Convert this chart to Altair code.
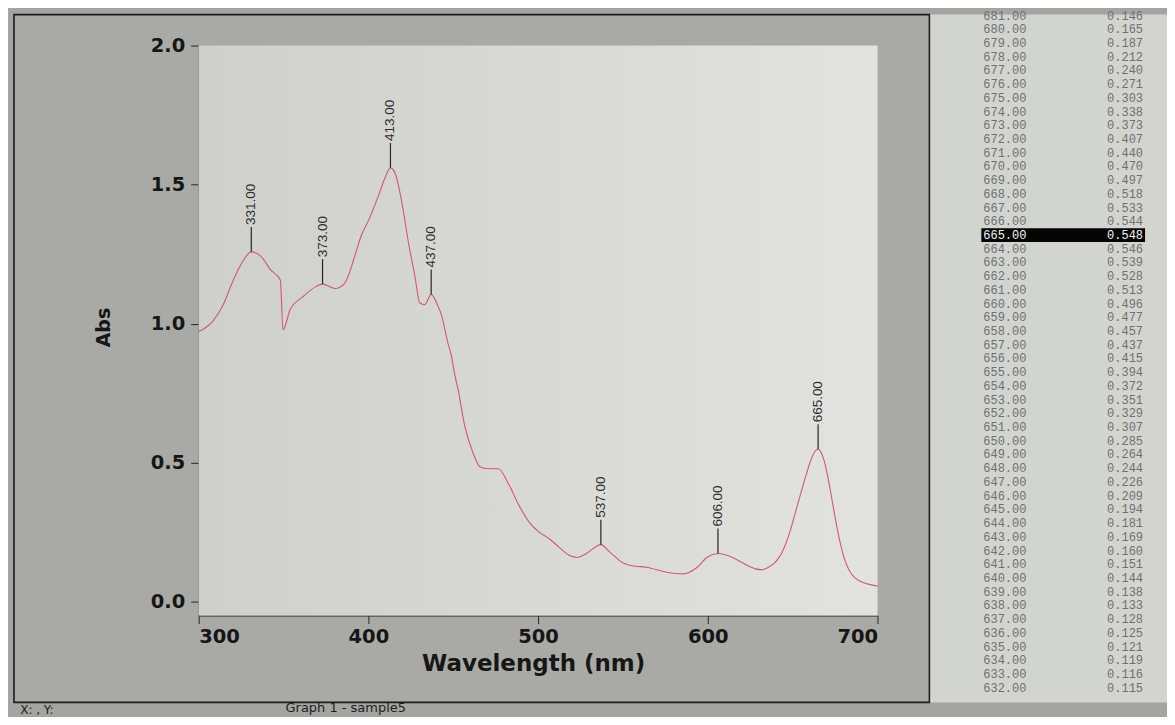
import altair as alt
import pandas as pd

# ---------------- data ----------------
# spectrum below 632 nm
read_wl = [300, 304, 308.5, 314, 319.7, 325.4, 331, 336.7, 342.4, 348.1, 349.7,
           353.9, 361.5, 369.1, 373, 380.4, 386, 391.6, 395.3, 400.9, 406.4,
           410.2, 413, 415.9, 419.7, 423.6, 427.4, 430.3, 433.2, 437, 441, 443,
           446.9, 448.9, 450.8, 452.8, 456.8, 461.8, 465.7, 470.7, 476.6, 482.6,
           488.5, 494.5, 500.4, 506.4, 512.3, 518.3, 523.2, 528.2, 537, 542,
           549.9, 556, 563.8, 575.6, 585.5, 593.6, 599.6, 606, 613.8, 624, 628]
read_abs = [0.972, 0.985, 1.010, 1.062, 1.146, 1.218, 1.258, 1.242, 1.193, 1.157, 0.978,
            1.050, 1.097, 1.133, 1.142, 1.126, 1.145, 1.235, 1.308, 1.382, 1.468,
            1.530, 1.560, 1.538, 1.437, 1.292, 1.171, 1.074, 1.068, 1.105, 1.063, 1.032,
            0.929, 0.885, 0.819, 0.765, 0.631, 0.533, 0.485, 0.478, 0.478, 0.423,
            0.349, 0.288, 0.251, 0.227, 0.196, 0.167, 0.159, 0.172, 0.205, 0.180,
            0.140, 0.128, 0.124, 0.106, 0.100, 0.123, 0.160, 0.173, 0.161, 0.128, 0.118]

# data table shown on the right (681 -> 632 nm)
table_wl = [681, 680, 679, 678, 677, 676, 675, 674, 673, 672, 671, 670, 669, 668,
            667, 666, 665, 664, 663, 662, 661, 660, 659, 658, 657, 656, 655, 654,
            653, 652, 651, 650, 649, 648, 647, 646, 645, 644, 643, 642, 641, 640,
            639, 638, 637, 636, 635, 634, 633, 632]
table_abs = [0.146, 0.165, 0.187, 0.212, 0.240, 0.271, 0.303, 0.338, 0.373, 0.407,
             0.440, 0.470, 0.497, 0.518, 0.533, 0.544, 0.548, 0.546, 0.539, 0.528,
             0.513, 0.496, 0.477, 0.457, 0.437, 0.415, 0.394, 0.372, 0.351, 0.329,
             0.307, 0.285, 0.264, 0.244, 0.226, 0.209, 0.194, 0.181, 0.169, 0.160,
             0.151, 0.144, 0.138, 0.133, 0.128, 0.125, 0.121, 0.119, 0.116, 0.115]
selected_wl = 665

# tail above 681 nm
tail_wl = [682, 683, 684, 686, 689, 694, 700]
tail_abs = [0.130, 0.117, 0.106, 0.090, 0.076, 0.064, 0.056]

# picked peaks
peak_wl = [331, 373, 413, 437, 537, 606, 665]
peak_abs = [1.258, 1.142, 1.560, 1.105, 0.205, 0.173, 0.548]
peak_txt = ["331.00", "373.00", "413.00", "437.00", "537.00", "606.00", "665.00"]

x_ticks = [300, 400, 500, 600, 700]
y_ticks = [0.0, 0.5, 1.0, 1.5, 2.0]
x_domain = [300, 700]
y_domain = [-0.05, 2.0]

# ---------------- tables for the library ----------------
spec_df = pd.DataFrame({
    "wl": read_wl + table_wl[::-1] + tail_wl,
    "abs": read_abs + table_abs[::-1] + tail_abs,
})
peak_df = pd.DataFrame({"wl": peak_wl, "abs": peak_abs, "txt": peak_txt})
area_df = pd.DataFrame({"wl": [x_domain[0]], "wl2": [x_domain[1]],
                        "abs": [y_domain[0]], "abs2": [y_domain[1]]})

rows = []
for w, a in zip(table_wl, table_abs):
    rows.append({"row": w, "col": 0, "txt": f"{w:.2f}"})
    rows.append({"row": w, "col": 1, "txt": f"{a:.3f}"})
table_df = pd.DataFrame(rows)
hl_df = pd.DataFrame({"row": [selected_wl], "col": [0], "col2": [1]})

# ---------------- spectrum panel ----------------
FRAME_W, FRAME_H = 917, 689
xs = alt.Scale(domain=x_domain, range=[185, 865], nice=False, zero=False)
ys = alt.Scale(domain=y_domain, range=[602, 31], nice=False, zero=False)

x_axis = alt.Axis(values=x_ticks, format="d", offset=-(FRAME_H - 602), grid=False,
                  domainColor="#2a2a2a", tickColor="#2a2a2a", tickSize=8,
                  labelPadding=4, labelFont="DejaVu Sans", labelFontWeight="bold",
                  labelFontSize=19.5, labelColor="#161616",
                  title="Wavelength (nm)", titleFont="DejaVu Sans",
                  titleFontWeight="bold", titleFontSize=23, titleColor="#161616",
                  titleX=520, titleY=48, titleAlign="center", titleBaseline="middle")
y_axis = alt.Axis(values=y_ticks, format=".1f", offset=-185, grid=False,
                  domainColor="#2a2a2a", tickColor="#2a2a2a", tickSize=8,
                  labelPadding=6, labelFont="DejaVu Sans", labelFontWeight="bold",
                  labelFontSize=19.5, labelColor="#161616",
                  title="Abs", titleFont="DejaVu Sans", titleFontWeight="bold",
                  titleFontSize=19, titleColor="#161616", titleAngle=270,
                  titleX=-95, titleY=313, titleAlign="center", titleBaseline="middle")

X = alt.X("wl:Q", scale=xs, axis=x_axis)
Y = alt.Y("abs:Q", scale=ys, axis=y_axis)

grad = alt.LinearGradient(
    gradient="linear", x1=0, x2=1, y1=0, y2=0,
    stops=[alt.GradientStop(color="#cfd0cc", offset=0),
           alt.GradientStop(color="#e2e3df", offset=1)])

plot_area = alt.Chart(area_df).mark_rect(color=grad).encode(
    x=X, x2="wl2:Q", y=Y, y2="abs2:Q",
)

curve = alt.Chart(spec_df).mark_line(color="#d05a6c", strokeWidth=1.1,
                                     interpolate="monotone").encode(x=X, y=Y)

peak_rules = alt.Chart(peak_df).mark_rule(color="#262626", strokeWidth=1.2,
                                          y2Offset=-25).encode(
    x=X, y=Y, y2="abs:Q",
)

peak_labels = alt.Chart(peak_df).mark_text(
    angle=270, align="left", baseline="middle", dx=27,
    font="Liberation Sans", fontSize=13.5, color="#2e2e2e").encode(
    x=X, y=Y, text="txt:N",
)

spectrum = alt.layer(plot_area, curve, peak_rules, peak_labels).properties(
    width=FRAME_W, height=FRAME_H,
    view=alt.ViewBackground(fill="#a9aaa6", stroke="#1c1c1c", strokeWidth=1.6),
    title=alt.Title("Graph 1 - sample5", orient="bottom", anchor="start",
                    dx=272, offset=0, font="DejaVu Sans", fontSize=13,
                    fontWeight="normal", color="#1e1e1e"),
)

# ---------------- data table panel ----------------
TAB_W = 237
ty = alt.Scale(type="band", range=[-5.87, 681.1], paddingInner=0, paddingOuter=0,
               domain=table_wl)
tx = alt.Scale(domain=[0, 1], range=[53, 213], nice=False, zero=False)
TX = alt.X("col:Q", scale=tx, axis=None)
TY = alt.Y("row:O", scale=ty, axis=None)

highlight = alt.Chart(hl_df).mark_rect(color="#050505", xOffset=-2, x2Offset=2).encode(
    x=TX, x2="col2:Q", y=TY,
)

txt_color = alt.condition(alt.datum.row == selected_wl,
                          alt.value("#f4f4f4"), alt.value("#707070"))

wl_col = alt.Chart(table_df).transform_filter(alt.datum.col == 0).mark_text(
    align="left", baseline="middle", font="Liberation Mono", fontSize=12).encode(
    x=TX, y=TY, text="txt:N", color=txt_color,
)
abs_col = alt.Chart(table_df).transform_filter(alt.datum.col == 1).mark_text(
    align="right", baseline="middle", font="Liberation Mono", fontSize=12).encode(
    x=TX, y=TY, text="txt:N", color=txt_color,
)

table = alt.layer(highlight, wl_col, abs_col).properties(
    width=TAB_W, height=FRAME_H,
    view=alt.ViewBackground(fill="#d2d4d0", strokeWidth=0),
)

chart = alt.hconcat(spectrum, table, spacing=0).properties(
    padding={"left": 5, "top": 0, "right": 0, "bottom": 0},
    background="#a4a5a1",
    title=alt.Title("X: , Y:", orient="bottom", anchor="start", dx=7, offset=-11,
                    font="DejaVu Sans", fontSize=12, fontWeight="normal",
                    color="#1e1e1e"),
).configure_view(strokeWidth=0)

chart.save("out.html", embed_options={"renderer": "svg", "actions": False})
